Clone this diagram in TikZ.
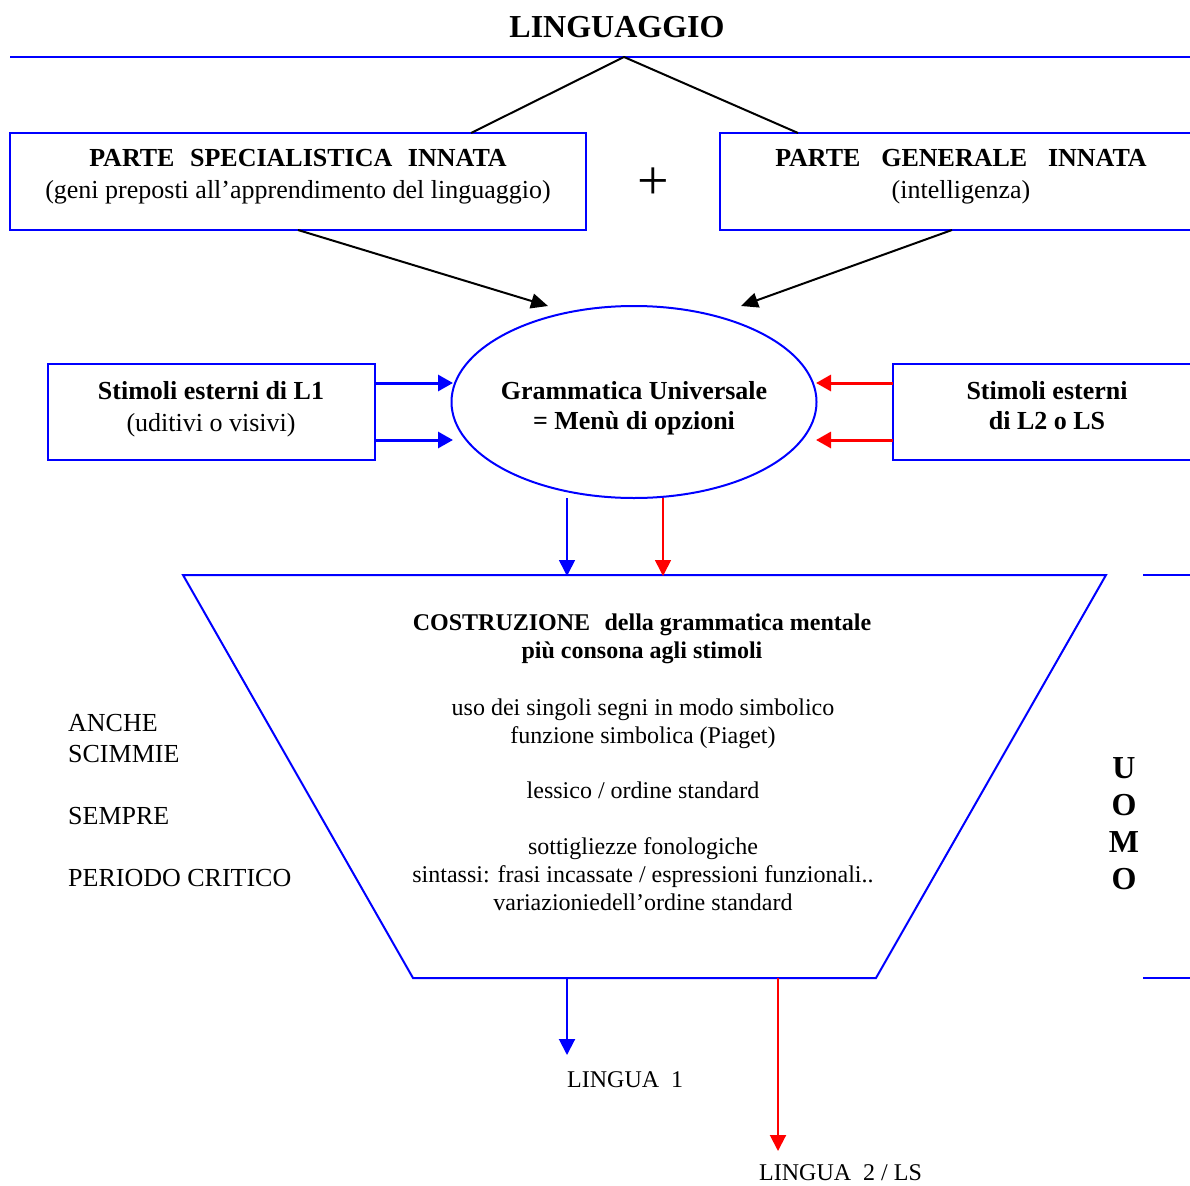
\documentclass[tikz,border=0pt]{standalone}
\usepackage{fontspec}
\setmainfont{Liberation Serif}
\usetikzlibrary{arrows.meta,shapes.geometric}
\definecolor{bl}{RGB}{0,0,255}
\definecolor{rd}{RGB}{255,0,0}
\begin{document}
\begin{tikzpicture}[x=1pt,y=-1pt,
  bline/.style={draw=bl,line width=2pt},
  box/.style={draw=bl,line width=2pt,inner sep=0pt},
  t26/.style={font=\fontsize{26}{32}\selectfont,align=center,inner sep=0pt},
  t24/.style={font=\fontsize{24}{28}\selectfont,align=center,inner sep=0pt},
  tl26/.style={font=\fontsize{26}{31}\selectfont,align=left,inner sep=0pt,anchor=west},
  blkarrow/.style={draw=black,line width=2pt,-{Triangle[length=17pt,width=15pt]}},
  thickarrow/.style={line width=3pt,-{Triangle[length=15pt,width=16pt]}},
  thinarrow/.style={line width=1.6pt,-{Triangle[length=16pt,width=16pt]}},
]
\useasboundingbox (0,0) rectangle (1190,1185);

% title and top line
\node[font=\fontsize{32}{36}\selectfont\bfseries,inner sep=0pt] (ling) at (617,27) {LINGUAGGIO};
\coordinate (topL) at (10,57);
\coordinate (topR) at (1192,57);
\coordinate (apex) at (624,57);
\draw[bline] (topL) -- (topR);

% innate parts
\node[box,minimum width=576pt,minimum height=97pt] (spec) at (298,181.5) {};
\node[t26] (spectxt) at (298,177) {\textbf{PARTE\hspace{0.6em}SPECIALISTICA\hspace{0.6em}INNATA}\\(geni preposti all’apprendimento del linguaggio)};
\node[box,minimum width=472pt,minimum height=97pt] (gen) at (956,181.5) {};
\node[t26] (gentxt) at (961,177) {\textbf{PARTE\hspace{0.8em}GENERALE\hspace{0.8em}INNATA}\\(intelligenza)};
\node[font=\fontsize{56}{56}\selectfont,inner sep=0pt] (plus) at (653,184) {+};

\coordinate (specTop) at (471,133);
\coordinate (genTop) at (798,133);
\draw[line width=2pt] (specTop) -- (apex) -- (genTop);

% Universal grammar
\node[ellipse,draw=bl,line width=2pt,minimum width=365pt,minimum height=192pt,inner sep=0pt] (gu) at (634,402) {};
\node[t26,font=\fontsize{26}{30}\selectfont\bfseries] (gutxt) at (634,408) {Grammatica Universale\\= Menù di opzioni};

\coordinate (specBot) at (298,230);
\coordinate (genBot) at (952,230);
\coordinate (guTL) at (548,306);
\coordinate (guTR) at (741,306);
\draw[blkarrow] (specBot) -- (guTL);
\draw[blkarrow] (genBot) -- (guTR);

% stimuli boxes
\node[box,minimum width=327pt,minimum height=96pt] (s1) at (211.5,412) {};
\node[t26] (s1txt) at (211,409) {\textbf{Stimoli esterni di L1}\\(uditivi o visivi)};
\node[box,minimum width=299pt,minimum height=96pt] (s2) at (1042.5,412) {};
\node[t26,font=\fontsize{26}{30}\selectfont\bfseries] (s2txt) at (1047,406) {Stimoli esterni\\di L2 o LS};

\coordinate (s1a) at (375,383);
\coordinate (s1b) at (375,440);
\coordinate (gua) at (453,383);
\coordinate (gub) at (453,440);
\draw[thickarrow,bl] (s1a) -- (gua);
\draw[thickarrow,bl] (s1b) -- (gub);
\coordinate (s2a) at (893,383);
\coordinate (s2b) at (893,440);
\coordinate (gura) at (816,383);
\coordinate (gurb) at (816,440);
\draw[thickarrow,rd] (s2a) -- (gura);
\draw[thickarrow,rd] (s2b) -- (gurb);

% trapezoid
\coordinate (trTL) at (183,575);
\coordinate (trTR) at (1106,575);
\coordinate (trBR) at (876,978);
\coordinate (trBL) at (413,978);
\draw[bline,line join=miter] (trTL) -- (trTR) -- (trBR) -- (trBL) -- cycle;

\coordinate (guB1) at (567,498);
\coordinate (guB2) at (663,498);
\coordinate (trT1) at (567,576);
\coordinate (trT2) at (663,576);
\draw[thinarrow,bl] (guB1) -- (trT1);
\draw[thinarrow,rd] (guB2) -- (trT2);

\node[t24,font=\fontsize{24}{28}\selectfont\bfseries] (costr) at (642,639) {COSTRUZIONE\hspace{0.6em}della grammatica mentale\\più consona agli stimoli};
\node[t24] (uso) at (643,724) {uso dei singoli segni in modo simbolico\\funzione simbolica (Piaget)};
\node[t24] (less) at (643,790) {lessico / ordine standard};
\node[t24] (sott) at (643,874) {sottigliezze fonologiche\\sintassi: frasi incassate / espressioni funzionali..\\variazioniedell’ordine standard};

% left notes
\node[tl26] (anche) at (68,739) {ANCHE\\SCIMMIE};
\node[tl26] (sempre) at (68,816) {SEMPRE};
\node[tl26] (periodo) at (68,878) {PERIODO CRITICO};

% right UOMO
\coordinate (uTa) at (1143,575);
\coordinate (uTb) at (1192,575);
\coordinate (uBa) at (1143,978);
\coordinate (uBb) at (1192,978);
\draw[bline] (uTa) -- (uTb);
\draw[bline] (uBa) -- (uBb);
\node[font=\fontsize{32}{37}\selectfont\bfseries,align=center,inner sep=0pt] (uomo) at (1124,824) {U\\O\\M\\O};

% outputs
\coordinate (trB1) at (567,978);
\coordinate (trB2) at (778,978);
\coordinate (l1tip) at (567,1055);
\coordinate (l2tip) at (778,1151);
\draw[thinarrow,bl,line width=2pt] (trB1) -- (l1tip);
\draw[thinarrow,rd,line width=2pt] (trB2) -- (l2tip);
\node[font=\fontsize{24}{28}\selectfont,inner sep=0pt,anchor=west] (l1) at (567,1080) {LINGUA\ \ 1};
\node[font=\fontsize{24}{28}\selectfont,inner sep=0pt,anchor=west] (l2) at (759,1173) {LINGUA\ \ 2 / LS};
\end{tikzpicture}
\end{document}
